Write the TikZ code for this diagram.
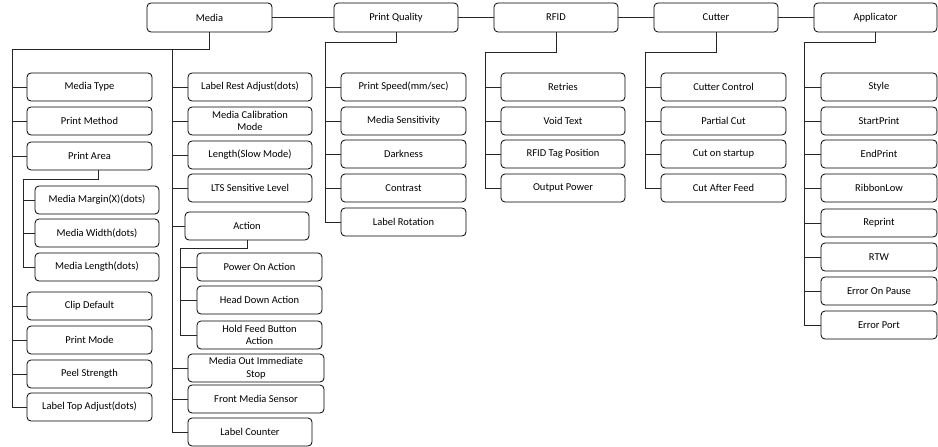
\documentclass[tikz,border=0pt]{standalone}
\usepackage{fontspec}
\setmainfont{Carlito}
\begin{document}
\begin{tikzpicture}[x=1pt,y=-1pt,
  box/.style={draw=black,line width=0.8pt,rounded corners=4pt,inner sep=0pt,align=center,
    font=\fontsize{10.5}{12.5}\selectfont},
  conn/.style={draw=black!85,line width=0.8pt}]
\useasboundingbox (0,0) rectangle (938,447);
\newcommand\bx[6]{\node[box,minimum width={(#4)-(#2)},minimum height={(#5)-(#3)}] (#1) at ({((#2)+(#4))/2},{((#3)+(#5))/2}) {#6};}
% top row
\bx{media}{147}{3}{272}{32}{Media}
\bx{pq}{334}{3}{458}{32}{Print Quality}
\bx{rfid}{494}{3}{618}{32}{RFID}
\bx{cut}{654}{3}{778}{32}{Cutter}
\bx{app}{814}{3}{937}{32}{Applicator}
\draw[conn] (media.east) -- (pq.west);
\draw[conn] (pq.east) -- (rfid.west);
\draw[conn] (rfid.east) -- (cut.west);
\draw[conn] (cut.east) -- (app.west);
% Media left column
\bx{mt}{27}{73}{152}{101}{Media Type}
\bx{pm}{27}{107}{152}{135}{Print Method}
\bx{pa}{27}{142}{152}{170}{Print Area}
\bx{mm}{35}{186}{159}{214}{Media Margin(X)(dots)}
\bx{mw}{35}{219}{159}{247}{Media Width(dots)}
\bx{ml}{35}{253}{159}{281}{Media Length(dots)}
\bx{cd}{27}{292}{152}{320}{Clip Default}
\bx{pmo}{27}{326}{152}{354}{Print Mode}
\bx{pst}{27}{360}{152}{388}{Peel Strength}
\bx{lta}{27}{393}{152}{421}{Label Top Adjust(dots)}
% Media middle column
\bx{lra}{188}{73}{312}{101}{Label Rest Adjust(dots)}
\bx{mcm}{188}{107}{312}{135}{Media Calibration\\Mode}
\bx{lsm}{188}{141}{312}{169}{Length(Slow Mode)}
\bx{lts}{188}{174}{312}{202}{LTS Sensitive Level}
\bx{act}{185}{212}{309}{240}{Action}
\bx{poa}{197}{253}{322}{281}{Power On Action}
\bx{hda}{197}{286}{322}{314}{Head Down Action}
\bx{hfb}{197}{321}{322}{349}{Hold Feed Button\\Action}
\bx{mois}{188}{354}{324}{382}{Media Out Immediate\\Stop}
\bx{fms}{188}{385}{324}{413}{Front Media Sensor}
\bx{lc}{188}{418}{312}{446}{Label Counter}
% Media connectors
\coordinate (mL) at (12,49);
\coordinate (mM) at (172,49);
\draw[conn] (media.south) |- (mL);
\draw[conn] (mL) |- (lta.west);
\foreach \n in {mt,pm,pa,cd,pmo,pst} \draw[conn] (mL |- \n.west) -- (\n.west);
\coordinate (paS) at (98,170);
\coordinate (paL) at (23,179);
\draw[conn] (paS) |- (paL) |- (ml.west);
\foreach \n in {mm,mw} \draw[conn] (paL |- \n.west) -- (\n.west);
\draw[conn] (mM) |- (lc.west);
\foreach \n in {lra,mcm,lsm,lts,act,mois,fms} \draw[conn] (mM |- \n.west) -- (\n.west);
\coordinate (aL) at (180,248);
\draw[conn] (act.south) |- (aL) |- (hfb.west);
\foreach \n in {poa,hda} \draw[conn] (aL |- \n.west) -- (\n.west);
% Print Quality
\bx{psp}{341}{73}{466}{101}{Print Speed(mm/sec)}
\bx{msen}{341}{107}{466}{135}{Media Sensitivity}
\bx{dark}{341}{140}{466}{168}{Darkness}
\bx{con}{341}{174}{466}{202}{Contrast}
\bx{lrot}{341}{208}{466}{236}{Label Rotation}
\coordinate (pqL) at (325,42);
\draw[conn] (pq.south) |- (pqL) |- (lrot.west);
\foreach \n in {psp,msen,dark,con} \draw[conn] (pqL |- \n.west) -- (\n.west);
% RFID
\bx{ret}{501}{73}{625}{101}{Retries}
\bx{void}{501}{107}{625}{135}{Void Text}
\bx{tag}{501}{140}{625}{168}{RFID Tag Position}
\bx{outp}{501}{174}{625}{202}{Output Power}
\coordinate (rL) at (485,52);
\draw[conn] (rfid.south) |- (rL) |- (outp.west);
\foreach \n in {ret,void,tag} \draw[conn] (rL |- \n.west) -- (\n.west);
% Cutter
\bx{cc}{661}{73}{786}{101}{Cutter Control}
\bx{pc}{661}{107}{786}{135}{Partial Cut}
\bx{cos}{661}{140}{786}{168}{Cut on startup}
\bx{caf}{661}{174}{786}{202}{Cut After Feed}
\coordinate (cL) at (645,52);
\draw[conn] (cut.south) |- (cL) |- (caf.west);
\foreach \n in {cc,pc,cos} \draw[conn] (cL |- \n.west) -- (\n.west);
% Applicator
\bx{sty}{821}{73}{937}{101}{Style}
\bx{sp}{821}{107}{937}{135}{StartPrint}
\bx{ep}{821}{140}{937}{168}{EndPrint}
\bx{rl}{821}{174}{937}{202}{RibbonLow}
\bx{rep}{821}{209}{937}{237}{Reprint}
\bx{rtw}{821}{243}{937}{271}{RTW}
\bx{eop}{821}{277}{937}{305}{Error On Pause}
\bx{eport}{821}{311}{937}{339}{Error Port}
\coordinate (apL) at (804,42);
\draw[conn] (app.south) |- (apL) |- (eport.west);
\foreach \n in {sty,sp,ep,rl,rep,rtw,eop} \draw[conn] (apL |- \n.west) -- (\n.west);
\end{tikzpicture}
\end{document}
